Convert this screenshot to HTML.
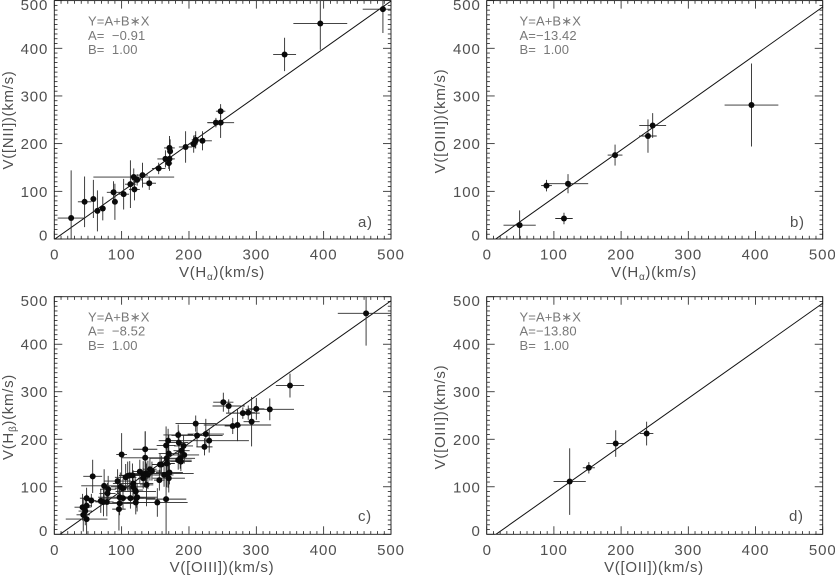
<!DOCTYPE html>
<html>
<head>
<meta charset="utf-8">
<title>Velocity comparison scatter panels</title>
<style>
html,body{margin:0;padding:0;background:#fff;}
svg{display:block;}
text{font-family:"Liberation Sans",sans-serif;white-space:pre;}
.tick-label{font-size:15px;letter-spacing:.9px;fill:#505050;}
.axis-title{font-size:15px;letter-spacing:.7px;fill:#505050;}
.fit-note{font-size:13px;letter-spacing:.1px;fill:#787878;}
.panel-tag{font-size:15px;letter-spacing:.6px;fill:#505050;}
</style>
</head>
<body>
<svg id="figure" xmlns="http://www.w3.org/2000/svg" width="835" height="576" viewBox="0 0 835 576">
  <rect width="835" height="576" fill="#fff"/>

  <g id="panel-a">
    <text class="axis-title" x="222" y="277" text-anchor="middle">V(H<tspan font-size="10" dy="3">α</tspan><tspan dy="-3">)(km/s)</tspan></text>
    <text class="axis-title" transform="translate(13,120) rotate(-90)" text-anchor="middle">V([NII])(km/s)</text>
    <text class="fit-note" x="88" y="25.5">Y=A+B∗X</text>
    <text class="fit-note" x="88" y="40">A=  −0.91</text>
    <text class="fit-note" x="88" y="54">B=  1.00</text>
    <text class="panel-tag" x="358" y="227">a)</text>
  </g>

  <g id="panel-b">
    <text class="axis-title" x="654" y="277" text-anchor="middle">V(H<tspan font-size="10" dy="3">α</tspan><tspan dy="-3">)(km/s)</tspan></text>
    <text class="axis-title" transform="translate(445,121) rotate(-90)" text-anchor="middle">V([OIII])(km/s)</text>
    <text class="fit-note" x="519.5" y="25.5">Y=A+B∗X</text>
    <text class="fit-note" x="519.5" y="40">A=−13.42</text>
    <text class="fit-note" x="519.5" y="54">B=  1.00</text>
    <text class="panel-tag" x="790" y="227">b)</text>
  </g>

  <g id="panel-c">
    <text class="axis-title" x="222" y="572" text-anchor="middle">V([OIII])(km/s)</text>
    <text class="axis-title" transform="translate(13,417) rotate(-90)" text-anchor="middle">V(H<tspan font-size="10" dy="3">β</tspan><tspan dy="-3">)(km/s)</tspan></text>
    <text class="fit-note" x="88" y="321.5">Y=A+B∗X</text>
    <text class="fit-note" x="88" y="335.5">A=  −8.52</text>
    <text class="fit-note" x="88" y="350">B=  1.00</text>
    <text class="panel-tag" x="358" y="521">c)</text>
  </g>

  <g id="panel-d">
    <text class="axis-title" x="654" y="572" text-anchor="middle">V([OII])(km/s)</text>
    <text class="axis-title" transform="translate(445,417) rotate(-90)" text-anchor="middle">V([OIII])(km/s)</text>
    <text class="fit-note" x="519.5" y="321.5">Y=A+B∗X</text>
    <text class="fit-note" x="519.5" y="335.5">A=−13.80</text>
    <text class="fit-note" x="519.5" y="350">B=  1.00</text>
    <text class="panel-tag" x="789" y="521">d)</text>
  </g>
</svg>

<script>
var tickLabels = [0, 100, 200, 300, 400, 500];
var axisMax = 500;
var minorStep = 10;

var fitIntercepts = { a: -0.91, b: -13.42, c: -8.52, d: -13.80 };
var fitSlopes = { a: 1.00, b: 1.00, c: 1.00, d: 1.00 };

var aX    = [25,45,58,64,72,88,90,103,113,118,119,123,131,141,155,165,170,171,171,172,195,207,210,209,220,240,247,247,342,395,488];
var aY    = [44,78,84,59,64,98,78,94,115,130,104,124,134,117,148,168,159,168,191,184,193,199,208,204,206,244,268,244,387,452,482];
var aXerr = [20,10,3,3,3,10,3,8,8,60,8,8,8,10,10,12,5,8,8,4,10,6,6,5,14,12,7,20,17,40,30];
var aYerr = [100,53,40,43,25,23,38,32,50,18,23,12,26,14,12,18,12,25,25,25,33,18,18,14,20,10,15,32,35,55,50];

var bX    = [49,89,115,121,191,240,247,394];
var bY    = [29,112,43,116,176,216,238,281];
var bXerr = [24,8,13,30,11,13,20,40];
var bYerr = [31,12,12,20,22,35,26,87];

var cX    = [42,43,46,48,48,48,55,57,69,74,73,78,80,79,94,97,97,96,100,98,102,102,106,109,112,116,113,117,117,120,121,122,121,123,127,132,132,135,135,136,137,139,142,145,153,157,156,159,163,166,166,167,167,169,170,169,170,171,184,185,184,187,188,189,192,193,210,212,225,223,230,251,259,265,272,280,288,293,300,320,350,463];
var cY    = [57,41,49,76,60,32,71,122,70,102,68,68,95,86,112,78,65,53,168,100,97,76,120,123,124,124,76,100,107,93,90,76,67,78,132,126,118,179,161,128,104,125,137,133,67,147,114,147,125,74,187,160,149,197,170,128,118,130,209,193,156,160,153,176,186,167,233,208,211,184,197,278,270,228,230,255,256,237,264,263,313,465];
var cXerr = [12,10,10,10,8,31,7,14,10,34,12,10,12,12,20,32,28,10,8,14,12,35,16,10,16,12,20,18,30,12,30,28,35,30,10,14,8,18,35,20,10,24,10,14,45,12,8,14,14,30,14,25,12,14,15,38,24,20,22,14,20,22,16,12,14,22,30,38,27,12,59,15,24,12,50,25,10,12,12,36,21,42];
var cYerr = [28,35,30,22,25,35,14,35,25,35,30,30,28,22,25,20,25,45,45,30,20,22,28,30,30,25,22,28,28,30,25,20,25,30,25,28,22,38,55,25,45,30,24,20,30,22,22,18,25,74,40,30,50,25,40,30,30,25,22,25,20,22,20,15,22,18,17,24,32,18,25,20,14,17,34,12,15,52,23,23,25,68];

var dX    = [123.5,152,192,238];
var dY    = [111,140,191,212];
var dXerr = [24,9,14,10];
var dYerr = [70,12,28,25];

var panelSeries = {
  a: { x: aX, y: aY, xe: aXerr, ye: aYerr },
  b: { x: bX, y: bY, xe: bXerr, ye: bYerr },
  c: { x: cX, y: cY, xe: cXerr, ye: cYerr },
  d: { x: dX, y: dY, xe: dXerr, ye: dYerr }
};

var panelFrames = {
  a: { left: 54.3, right: 391, top: 0.6, bottom: 239 },
  b: { left: 486.7, right: 822.7, top: 0.6, bottom: 239 },
  c: { left: 54.3, right: 391, top: 296.7, bottom: 534.3 },
  d: { left: 486.7, right: 822.7, top: 296.7, bottom: 534.3 }
};

var SVG_NS = 'http://www.w3.org/2000/svg';
var INK = '#1c1c1c';

function create(tag, parent, props) {
  var node = document.createElementNS(SVG_NS, tag);
  for (var k in props) { node.setAttribute(k, props[k]); }
  parent.appendChild(node);
  return node;
}

function drawAxes(key, group, frame, sx, sy) {
  var el, v;
  for (v = 0; v <= axisMax; v += minorStep) {
    var major = v % 100 === 0;
    var xLen = major ? 8 : 3.2;
    var yLen = major ? 8 : 3.2;

    el = create('line', group, { x1: sx(v), x2: sx(v), y1: frame.bottom, y2: frame.bottom - xLen, stroke: INK, 'stroke-width': 0.8 });
    
    

    el = create('line', group, { x1: sx(v), x2: sx(v), y1: frame.top, y2: frame.top + xLen, stroke: INK, 'stroke-width': 0.8 });
    
    

    el = create('line', group, { x1: frame.left, x2: frame.left + yLen, y1: sy(v), y2: sy(v), stroke: INK, 'stroke-width': 0.8 });
    
    

    el = create('line', group, { x1: frame.right, x2: frame.right - yLen, y1: sy(v), y2: sy(v), stroke: INK, 'stroke-width': 0.8 });
    
    
  }

  el = create('rect', group, { x: frame.left, y: frame.top, width: frame.right - frame.left, height: frame.bottom - frame.top, fill: 'none', stroke: INK, 'stroke-width': 0.9 });
  
  

  tickLabels.forEach(function (t) {
    var xl = create('text', group, { 'class': 'tick-label', x: sx(t) + (t === 0 ? 0.5 : 0), y: frame.bottom + 20.5, 'text-anchor': 'middle' });
    xl.textContent = String(t);
    
    

    var shift = t === axisMax ? 4 : (t === 0 ? -4 : 0);
    var yl = create('text', group, { 'class': 'tick-label', x: frame.left - 6, y: sy(t) + shift + 5.5, 'text-anchor': 'end' });
    yl.textContent = String(t);
    
    
  });
}

function drawPanel(key) {
  var frame = panelFrames[key];
  var series = panelSeries[key];
  var group = document.getElementById('panel-' + key);
  var sx = function (v) { return frame.left + (v / axisMax) * (frame.right - frame.left); };
  var sy = function (v) { return frame.bottom - (v / axisMax) * (frame.bottom - frame.top); };

  var clip = create('clipPath', group, { id: 'clip-' + key });
  create('rect', clip, { x: frame.left, y: frame.top, width: frame.right - frame.left, height: frame.bottom - frame.top });

  drawAxes(key, group, frame, sx, sy);

  var marks = create('g', group, { 'clip-path': 'url(#clip-' + key + ')' });
  
  

  var a = fitIntercepts[key], b = fitSlopes[key];
  var fit = create('line', marks, { x1: sx(0), y1: sy(a), x2: sx(axisMax), y2: sy(a + b * axisMax), stroke: '#111', 'stroke-width': 1 });
  
  

  series.x.forEach(function (xv, i) {
    var yv = series.y[i];
    var xe = series.xe[i];
    var ye = series.ye[i];

    var h = create('line', marks, { x1: sx(xv - xe), x2: sx(xv + xe), y1: sy(yv), y2: sy(yv), stroke: '#2a2a2a', 'stroke-width': 0.9 });
    
    

    var w = create('line', marks, { x1: sx(xv), x2: sx(xv), y1: sy(yv - ye), y2: sy(yv + ye), stroke: '#2a2a2a', 'stroke-width': 0.9 });
    
    
  });

  series.x.forEach(function (xv, i) {
    var pt = create('circle', marks, { cx: sx(xv), cy: sy(series.y[i]), r: 3, fill: '#0a0a0a' });
    
    
  });
}

['a', 'b', 'c', 'd'].forEach(drawPanel);
</script>
</body>
</html>
